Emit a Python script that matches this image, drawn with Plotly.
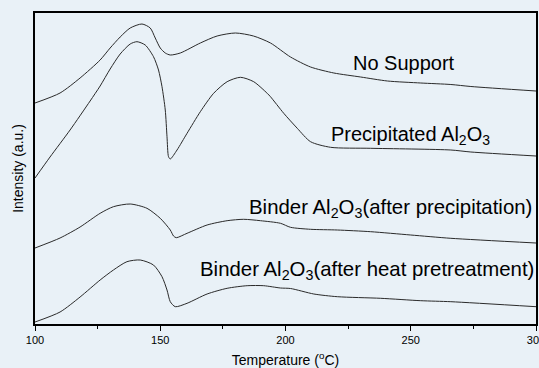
import plotly.graph_objects as go

# Temperature (°C) and intensity (a.u., arbitrary offsets)
t_nosupport = [100, 110, 118, 126, 130, 134, 138, 142.7, 146, 148, 150, 152, 154, 158, 166, 172.7, 180, 187.2, 194, 202, 210, 219.3, 230, 240.7, 254, 266, 274, 300]
i_nosupport = [221, 231, 246, 264, 276, 287, 296, 300, 296, 286, 276, 271, 269, 271, 281, 288, 291, 288, 281, 267, 257, 251, 247, 243, 241, 239.5, 237.5, 233]

t_precip = [100, 106, 114, 122, 126, 130, 134, 138, 140.7, 144, 147.3, 149.3, 150.7, 152, 152.7, 153.3, 154, 156.7, 160.7, 166, 171.3, 176.7, 182, 187.3, 192.7, 194, 199.3, 204.7, 210, 218, 234, 266, 274, 300]
i_precip = [146, 167, 194, 223, 238, 255, 270, 280, 282.3, 279, 267.3, 254, 237.3, 214, 187.3, 167.3, 165, 174, 190.7, 212.3, 230.7, 242.3, 246.7, 242.3, 230.7, 227.3, 210.7, 195.7, 182.3, 176.7, 175.7, 174, 172, 168]

t_binder_p = [100, 110, 118, 126, 131.3, 138, 144.7, 150, 154, 155.3, 156.4, 160.7, 168.7, 176.7, 183.3, 190, 198, 202, 210, 220.7, 234, 250, 266, 300]
i_binder_p = [76, 86, 97, 110.7, 117.3, 120, 115.7, 105.7, 94, 88, 86.3, 90.7, 99, 103.3, 104.7, 103.3, 100.7, 96.7, 94.7, 94, 92.3, 89, 85.7, 81]

t_binder_h = [100, 110, 118, 126, 131.3, 136.7, 142, 147.3, 150.7, 152.7, 154, 156, 160.7, 168.7, 176.7, 184.7, 191.3, 198, 202, 211.3, 220.7, 238, 254, 266, 300]
i_binder_h = [2, 12, 27, 44, 54, 62.3, 64, 59, 47.3, 34, 22.3, 17.3, 20.7, 30, 35.7, 38.3, 38.3, 36, 35.5, 30, 27.3, 25.7, 23.3, 22.3, 17.3]

series = [
    ("No Support", t_nosupport, i_nosupport),
    ("Precipitated Al2O3", t_precip, i_precip),
    ("Binder Al2O3 (after precipitation)", t_binder_p, i_binder_p),
    ("Binder Al2O3 (after heat pretreatment)", t_binder_h, i_binder_h),
]

BG = "#e9f1f7"
FONT = "Arial, Liberation Sans, sans-serif"

fig = go.Figure()
for name, t, i in series:
    fig.add_trace(go.Scatter(x=t, y=i, mode="lines", name=name,
                             line=dict(color="#2a2a2a", width=1, shape="spline", smoothing=0.7),
                             showlegend=False))

ann_font = dict(family=FONT, size=20, color="#000000")
fig.add_annotation(x=247.2, y=261, text="No Support", showarrow=False,
                   xanchor="center", yanchor="middle", font=ann_font)
fig.add_annotation(x=217.2, y=189, text="Precipitated Al<sub>2</sub>O<sub>3</sub>", showarrow=False,
                   xanchor="left", yanchor="middle", font=ann_font)
fig.add_annotation(x=299.2, y=116, text="Binder Al<sub>2</sub>O<sub>3</sub>(after precipitation)", showarrow=False,
                   xanchor="right", yanchor="middle", font=dict(family=FONT, size=20.4, color="#000000"))
fig.add_annotation(x=299.8, y=54, text="Binder Al<sub>2</sub>O<sub>3</sub>(after heat pretreatment)", showarrow=False,
                   xanchor="right", yanchor="middle", font=dict(family=FONT, size=20.4, color="#000000"))

fig.update_layout(
    width=539, height=368,
    margin=dict(l=35, r=3, t=13, b=44),
    paper_bgcolor=BG, plot_bgcolor=BG,
    font=dict(family=FONT, color="#000000"),
    xaxis=dict(range=[100, 300], tickvals=[100, 150, 200, 250, 300],
               ticks="outside", ticklen=5, tickwidth=1, tickcolor="#000",
               minor=dict(tickvals=[125, 175, 225, 275], ticks="outside", ticklen=3, tickcolor="#000"),
               showline=True, linecolor="#000", linewidth=2, mirror=True,
               showgrid=False, zeroline=False, ticklabeloverflow="allow",
               automargin=False,
               tickfont=dict(size=11),
               title=dict(text="Temperature (<sup>o</sup>C)", font=dict(size=14), standoff=11)),
    yaxis=dict(range=[0, 311], showticklabels=False, ticks="",
               showline=True, linecolor="#000", linewidth=2, mirror=True,
               showgrid=False, zeroline=False, automargin=False,
               title=dict(text="Intensity (a.u.)", font=dict(size=14), standoff=6)),
)

fig.write_html("out.html")
